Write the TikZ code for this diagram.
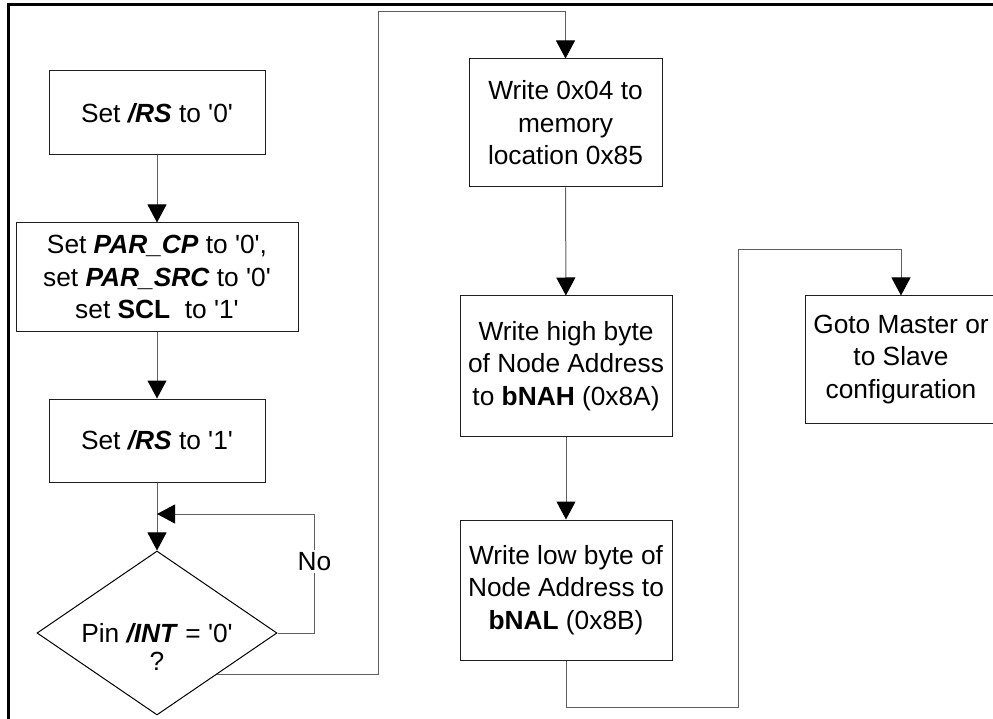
\documentclass[tikz,border=0pt]{standalone}
\usepackage{fontspec}
\newfontfamily\arialfont{Liberation Sans}
\usetikzlibrary{shapes.geometric,arrows.meta}
\definecolor{wiregray}{RGB}{96,96,96}
\definecolor{boxline}{RGB}{30,30,30}
\newcommand{\sig}[1]{\textbf{\textit{#1}}}
\tikzset{
	blk/.style={draw=boxline, line width=1pt, align=center, inner sep=0pt,
		font=\arialfont\fontsize{26.3}{32.5}\selectfont},
	decision/.style={diamond, draw=black, line width=1pt, inner sep=0pt,
		minimum width=240pt, minimum height=164pt},
	wire/.style={draw=wiregray, line width=1pt,
		-{Triangle[width=19pt,length=18pt,black]}},
	lbl/.style={fill=white, inner sep=2pt, font=\arialfont\fontsize{26.3}{30}\selectfont}
}
\begin{document}
\begin{tikzpicture}[x=1pt,y=-1pt]
		\useasboundingbox (0,0) rectangle (993,719);
		% frame
		\draw[line width=3pt] (8,740) -- (8,5) -- (1010,5);
		
		% left column
		\node[blk, minimum width=216pt, minimum height=84pt] (rs0) at (157,113) {Set \sig{/RS} to '0'};
		\node[blk, minimum width=282pt, minimum height=108pt] (par) at (157,277)
			{Set \sig{PAR\_CP} to '0',\\ set \sig{PAR\_SRC} to '0'\\ set \textbf{SCL}~ to '1'};
		\node[blk, minimum width=216pt, minimum height=83pt] (rs1) at (157,440.5) {Set \sig{/RS} to '1'};
		\coordinate (join) at (157,514);
		\node[decision] (pin) at (157,633) {};
		\node[blk, draw=none, font=\arialfont\fontsize{26.3}{28}\selectfont] (pintxt) at (157,647)
			{Pin \sig{/INT} = '0'\\ ?};
		
		% middle column
		\node[blk, minimum width=193pt, minimum height=128pt] (wr04) at (565.5,123)
			{Write 0x04 to\\ memory\\ location 0x85};
		\node[blk, minimum width=212pt, minimum height=140pt] (wrhi) at (566,366)
			{Write high byte\\ of Node Address\\ to \textbf{bNAH} (0x8A)};
		\node[blk, minimum width=212pt, minimum height=140pt] (wrlo) at (566,590)
			{Write low byte of\\ Node Address to\\ \textbf{bNAL} (0x8B)};
		
		% right column
		\node[blk, minimum width=192pt, minimum height=127pt] (goto) at (901,359.5)
			{Goto Master or\\ to Slave\\ configuration};
		
		\draw[wire] (rs0) -- (par);
		\draw[wire] (par) -- (rs1);
		\draw[wire] (rs1) -- (pin);
		\draw[wire] (pin.east) -- ++(37,0) |- node[lbl, pos=0.3] (no) {No} (join);
		\draw[wire] (pin.south east) -| (378,12) -| (wr04.north);
		\draw[wire] (wr04) -- (wrhi);
		\draw[wire] (wrhi) -- (wrlo);
		\draw[wire] (wrlo.south) |- (738,707) -- (738,250) -| (goto.north);
	\end{tikzpicture}
\end{document}
